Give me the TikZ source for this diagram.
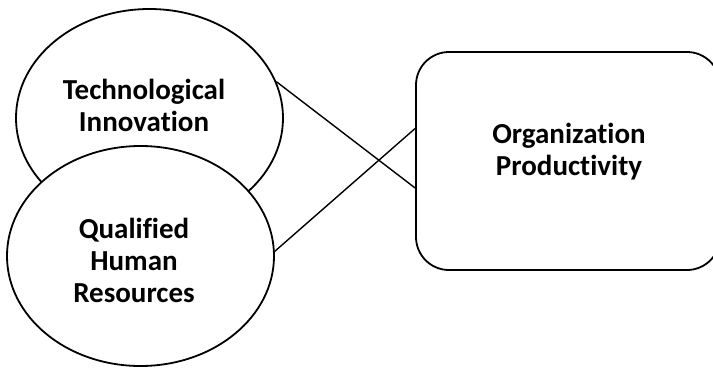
\documentclass[tikz,border=0pt]{standalone}
\usepackage{fontspec}
\setmainfont{Carlito}[Ligatures={NoCommon}]
\usetikzlibrary{shapes.geometric}
\begin{document}
\begin{tikzpicture}[x=1pt,y=-1pt,
  oval/.style={ellipse,draw=black,fill=white,line width=1.8pt,inner sep=0pt},
  rbox/.style={rectangle,draw=black,fill=white,line width=1.8pt,inner sep=0pt,rounded corners=33pt},
  lbl/.style={align=center,inner sep=0pt,font=\bfseries\fontsize{29}{32}\selectfont},
  link/.style={draw=black,line width=1.4pt}]
\useasboundingbox (0,0) rectangle (713,368);
\clip (0,0) rectangle (713,368);
\fill[white] (0,0) rectangle (713,368);
% shapes
\node[oval,minimum width=267pt,minimum height=218pt] (te) at (149.5,118) {};
\node[oval,minimum width=267pt,minimum height=220pt] (qe) at (140.5,256) {};
\node[rbox,minimum width=304pt,minimum height=218pt] (box) at (568,161) {};
% texts
\node[lbl] (tt) at (144,105) {Technological\\Innovation};
\node[lbl] (qt) at (134,260) {Qualified\\Human\\Resources};
\node[lbl] (bt) at (569,152) {Organization\\Productivity};
% connectors
\draw[link] (te.16.3) -- (box.190.8);
\draw[link] (qe.2.6) -- (box.168.8);
\end{tikzpicture}
\end{document}
